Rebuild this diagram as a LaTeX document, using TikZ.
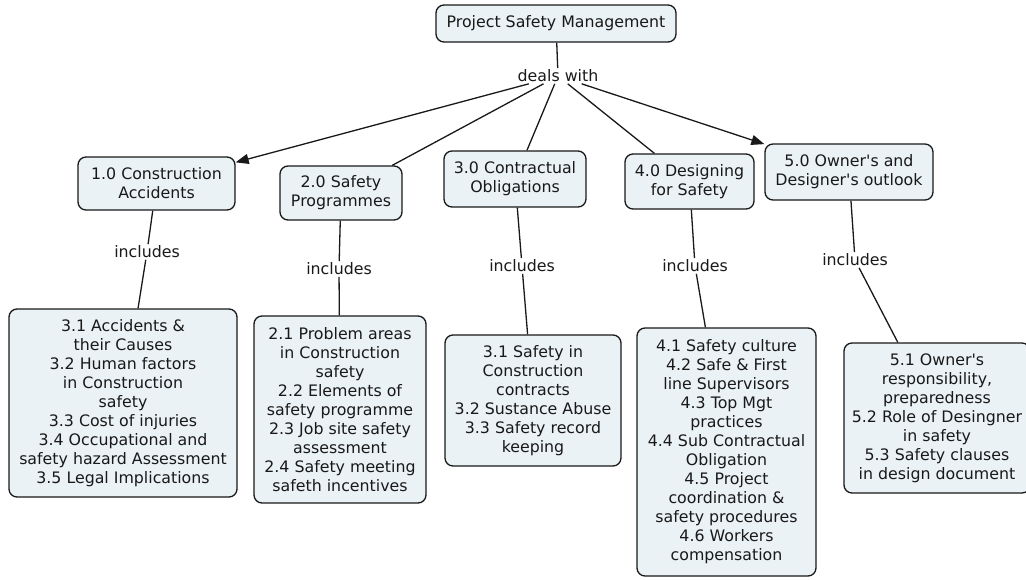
\documentclass[tikz,border=0pt]{standalone}
\usepackage{fontspec}
\setmainfont{DejaVu Sans}
\usetikzlibrary{arrows.meta}
\definecolor{boxfill}{RGB}{234,242,245}
\definecolor{ink}{RGB}{25,25,25}
\begin{document}
\begin{tikzpicture}[x=1pt,y=-1pt,
  concept/.style={draw=ink, line width=1.3pt, fill=boxfill, rounded corners=8pt,
    align=center, text=ink, font=\fontsize{15.8}{19}\selectfont, inner sep=0pt},
  lbl/.style={font=\fontsize{15.8}{19}\selectfont, text=ink, inner sep=1.5pt},
  link/.style={line width=1.3pt, draw=ink},
  arr/.style={link, -{Triangle[length=13pt,width=10pt]}}]
\useasboundingbox (0,0) rectangle (1026,579);
\fill[white] (0,0) rectangle (1026,579);

\node[concept, minimum width=240pt, minimum height=37pt] (root) at (556,23.5) {Project Safety Management};
\node[lbl] (deals) at (558,76) {deals with};

\node[concept, minimum width=157pt, minimum height=53pt] (c1) at (156.5,183.5) {1.0 Construction\\Accidents};
\node[concept, minimum width=122pt, minimum height=54pt] (c2) at (341,193) {2.0 Safety\\Programmes};
\node[concept, minimum width=142pt, minimum height=56pt] (c3) at (515,179) {3.0 Contractual\\Obligations};
\node[concept, minimum width=129pt, minimum height=55pt] (c4) at (689.5,181.5) {4.0 Designing\\for Safety};
\node[concept, minimum width=168pt, minimum height=56pt] (c5) at (849,172) {5.0 Owner\textquotesingle s and\\Designer\textquotesingle s outlook};

\node[lbl] (i1) at (147,252) {includes};
\node[lbl] (i2) at (339,269) {includes};
\node[lbl] (i3) at (522,266) {includes};
\node[lbl] (i4) at (695,266) {includes};
\node[lbl] (i5) at (855,260) {includes};

\node[concept, minimum width=228pt, minimum height=188pt] (b1) at (123,403) {3.1 Accidents \&\\their Causes\\3.2 Human factors\\in Construction\\safety\\3.3 Cost of injuries\\3.4 Occupational and\\safety hazard Assessment\\3.5 Legal Implications};
\node[concept, minimum width=172pt, minimum height=187pt] (b2) at (340,409.5) {2.1 Problem areas\\in Construction\\safety\\2.2 Elements of\\safety programme\\2.3 Job site safety\\assessment\\2.4 Safety meeting\\safeth incentives};
\node[concept, minimum width=176pt, minimum height=131pt] (b3) at (533,400.5) {3.1 Safety in\\Construction\\contracts\\3.2 Sustance Abuse\\3.3 Safety record\\keeping};
\node[concept, minimum width=179pt, minimum height=248pt] (b4) at (726.5,452) {4.1 Safety culture\\4.2 Safe \& First\\line Supervisors\\4.3 Top Mgt\\practices\\4.4 Sub Contractual\\Obligation\\4.5 Project\\coordination \&\\safety procedures\\4.6 Workers\\compensation};
\node[concept, minimum width=186pt, minimum height=150pt] (b5) at (937,418) {5.1 Owner\textquotesingle s\\responsibility,\\preparedness\\5.2 Role of Desingner\\in safety\\5.3 Safety clauses\\in design document};

\draw[link] (root) -- (deals);
\draw[arr] (deals) -- (c1);
\draw[link] (deals) -- (c2);
\draw[link] (deals) -- (c3);
\draw[link] (deals) -- (c4);
\draw[arr] (deals) -- (c5);

\draw[link] (c1) -- (i1); \draw[link] (i1) -- (b1);
\draw[link] (c2) -- (i2); \draw[link] (i2) -- (b2);
\draw[link] (c3) -- (i3); \draw[link] (i3) -- (b3);
\draw[link] (c4) -- (i4); \draw[link] (i4) -- (b4);
\draw[link] (c5) -- (i5); \draw[link] (i5) -- (b5);
\end{tikzpicture}
\end{document}
